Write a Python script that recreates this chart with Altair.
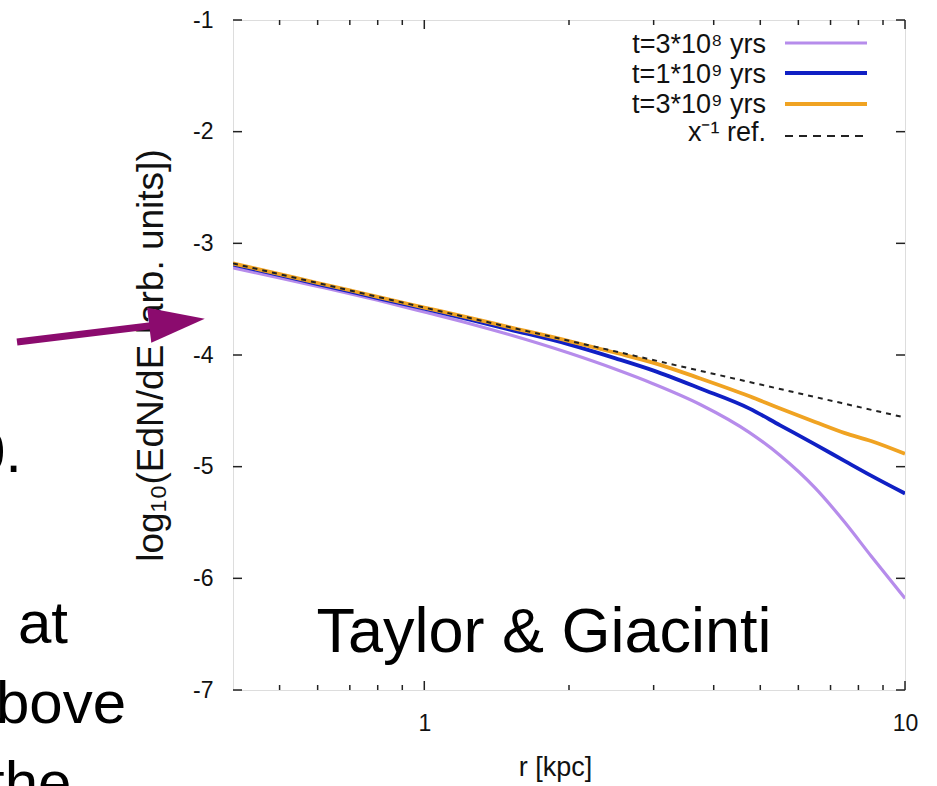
import altair as alt
import pandas as pd

# ---------------- data ----------------
r_grid = [0.4, 0.5, 0.6, 0.7, 0.8, 1.0, 1.25, 1.5, 2.0, 2.5, 3.0, 3.75, 4.75, 5.5, 6.5, 7.5, 8.5, 10.0]
v_3e8 = [-3.22, -3.31, -3.385, -3.45, -3.51, -3.615, -3.722, -3.817, -3.983, -4.128, -4.259, -4.443,
         -4.695, -4.90, -5.19, -5.50, -5.80, -6.18]
v_1e9 = [-3.19, -3.285, -3.365, -3.43, -3.49, -3.585, -3.685, -3.77, -3.905, -4.03, -4.14, -4.30,
         -4.48, -4.63, -4.80, -4.95, -5.08, -5.24]
v_3e9 = [-3.18, -3.275, -3.355, -3.42, -3.48, -3.575, -3.67, -3.75, -3.875, -3.98, -4.07, -4.21,
         -4.37, -4.48, -4.60, -4.70, -4.77, -4.885]
r_ref = [0.4, 1.0, 10.0]
v_ref = [-3.18, -3.575, -4.56]

series_labels = ["t=3*10\u2078 yrs", "t=1*10\u2079 yrs", "t=3*10\u2079 yrs", "x\u207b\u00b9 ref."]
series_colors = ["#b68ceb", "#1020c4", "#f0a322", "#222222"]

x_minor_ticks = [0.5, 0.6, 0.7, 0.8, 0.9, 2, 3, 4, 5, 6, 7, 8, 9]
x_major_ticks = [1, 10]
y_ticks = [-7, -6, -5, -4, -3, -2, -1]

FONT = "Liberation Sans, Arial, Helvetica, sans-serif"
W, H = 672, 670
LEFT, TOP = 233, 20

xs = alt.Scale(type="log", domain=[0.4, 10], nice=False)
ys = alt.Scale(domain=[-7, -1], nice=False, zero=False)

xaxis = alt.Axis(values=x_major_ticks, format="~g", ticks=False, domain=False, grid=False,
                 labelFontSize=23, labelPadding=22, labelFlush=False, labelColor="#111",
                 labelFont=FONT, title="r [kpc]", titleFont=FONT, titleFontSize=27,
                 titleFontWeight="normal", titleColor="#111", titleX=322, titleY=85,
                 titleBaseline="alphabetic", titleAlign="center")
yaxis = alt.Axis(values=y_ticks, labelExpr="'' + datum.value", ticks=False, domain=False, grid=False,
                 labelFontSize=23, labelPadding=20, labelColor="#111", labelFont=FONT,
                 title="log\u2081\u2080(EdN/dE [arb. units])", titleFont=FONT, titleFontSize=37,
                 titleFontWeight="normal", titleColor="#111", titleAngle=270,
                 titleX=-82, titleY=335, titleAlign="center", titleBaseline="middle")

one = pd.DataFrame({"a": [0]})


def X():
    return alt.X("r:Q", scale=xs, axis=xaxis)


def Y():
    return alt.Y("v:Q", scale=ys, axis=yaxis)


layers = []

# curves
curves = [(r_grid, v_3e8, series_colors[0], 3.2, None),
          (r_grid, v_1e9, series_colors[1], 3.8, None),
          (r_grid, v_3e9, series_colors[2], 3.8, None),
          (r_ref, v_ref, series_colors[3], 2.0, [5, 5])]
for rr, vv, col, sw, dash in curves:
    df = pd.DataFrame({"r": rr, "v": vv})
    kw = dict(color=col, strokeWidth=sw, interpolate="monotone", clip=True)
    if dash:
        kw["strokeDash"] = dash
    layers.append(alt.Chart(df).mark_line(**kw).encode(x=X(), y=Y()))

# inward ticks (gnuplot style)
tick_col = "#222"
dfxmin = pd.DataFrame({"r": x_minor_ticks})
dfxmaj = pd.DataFrame({"r": x_major_ticks})
dfy = pd.DataFrame({"v": y_ticks})
for d, ln in [(dfxmin, 5), (dfxmaj, 9)]:
    layers.append(alt.Chart(d).mark_rule(color=tick_col, strokeWidth=1.5).encode(
        x=X(), y=alt.value(H), y2=alt.value(H - ln)))
    layers.append(alt.Chart(d).mark_rule(color=tick_col, strokeWidth=1.5).encode(
        x=X(), y=alt.value(0), y2=alt.value(ln)))
layers.append(alt.Chart(dfy).mark_rule(color=tick_col, strokeWidth=1.5).encode(
    y=Y(), x=alt.value(0), x2=alt.value(9)))
layers.append(alt.Chart(dfy).mark_rule(color=tick_col, strokeWidth=1.5).encode(
    y=Y(), x=alt.value(W), x2=alt.value(W - 9)))

# legend (gnuplot key, top right inside)
line_y = [43, 73, 104, 136]
text_y = [53, 83, 113, 141]
for i, lab in enumerate(series_labels):
    layers.append(alt.Chart(one).mark_text(text=lab, font=FONT, fontSize=27, align="right",
                                           baseline="alphabetic", color="#111").encode(
        x=alt.value(766 - LEFT), y=alt.value(text_y[i] - TOP)))
    kw = dict(color=series_colors[i], strokeWidth=curves[i][3])
    if curves[i][4]:
        kw["strokeDash"] = [8, 6]
    layers.append(alt.Chart(one).mark_rule(**kw).encode(
        x=alt.value(785 - LEFT), x2=alt.value(867 - LEFT), y=alt.value(line_y[i] - TOP)))

# annotation inside plot
layers.append(alt.Chart(one).mark_text(text="Taylor & Giacinti", font=FONT, fontSize=63,
                                       align="center", baseline="alphabetic", color="#000").encode(
    x=alt.value(544 - LEFT), y=alt.value(652 - TOP)))

# slide fragments to the left of the plot
frag = [("0.", 22, 472, "right"), ("at", 18, 643, "left"), ("bove", -4, 723, "left"),
        ("the", -12, 803, "left")]
for t, fx, fy, al in frag:
    layers.append(alt.Chart(one).mark_text(text=t, font=FONT, fontSize=60, align=al,
                                           baseline="alphabetic", color="#000").encode(
        x=alt.value(fx - LEFT), y=alt.value(fy - TOP)))

# arrow
arrow_col = "#8b0b6e"
layers.append(alt.Chart(one).mark_rule(color=arrow_col, strokeWidth=7, strokeCap="butt").encode(
    x=alt.value(17 - LEFT), y=alt.value(342 - TOP), x2=alt.value(157 - LEFT), y2=alt.value(325 - TOP)))
layers.append(alt.Chart(one).mark_point(shape="M-1,-0.63L1,0L-1,0.63Z", filled=True, size=3125,
                                        angle=353.3, color=arrow_col, opacity=1, strokeWidth=0).encode(
    x=alt.value(177 - LEFT), y=alt.value(322 - TOP)))

chart = alt.layer(*layers).properties(
    width=W, height=H,
    autosize=alt.AutoSizeParams(type="none"),
    padding={"left": LEFT, "top": TOP, "right": 937 - LEFT - W, "bottom": 786 - TOP - H},
    background="white",
).configure_view(stroke="#222", strokeWidth=2).configure(font=FONT)

chart.save("out.html", embed_options={"renderer": "svg", "actions": False})
